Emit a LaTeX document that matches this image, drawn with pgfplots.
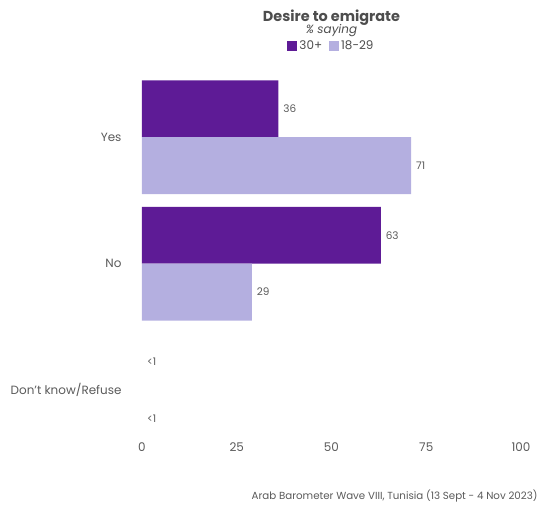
\documentclass[border=0pt]{standalone}
\usepackage{pgfplots}
\pgfplotsset{compat=1.18}
\usepackage{fontspec}
\setmainfont{Poppins}
\definecolor{dark}{RGB}{94,27,150}
\definecolor{light}{RGB}{180,175,224}
\definecolor{txt}{RGB}{90,90,90}
\definecolor{ttl}{RGB}{77,77,77}
\begin{document}
\begin{tikzpicture}
\begin{axis}[
  at={(0,0)}, anchor=south west,
  scale only axis, width=379bp, height=373bp,
  xmin=0, xmax=100, ymin=-0.45, ymax=2.5,
  axis line style={draw=none},
  major tick length=0pt,
  xtick={0,25,50,75,100},
  ytick={0,1,2},
  yticklabels={Don't know/Refuse,No,Yes},
  /pgf/number format/assume math mode=true,
  xticklabel style={anchor=center, font=\fontsize{12}{14}\selectfont, text=txt},
  yticklabel style={anchor=east, xshift=-17bp, font=\fontsize{12}{14}\selectfont, text=txt},
  xbar, bar width=0.45,
  point meta=explicit symbolic,
  nodes near coords,
  every node near coord/.append style={anchor=west, xshift=1.5bp, font=\fontsize{10.5}{12}\selectfont, text=txt},
  legend style={at={(0.5,1)}, anchor=center, yshift=28bp, draw=none, fill=none,
    legend columns=2, font=\fontsize{12}{14}\selectfont, text=ttl,
    /tikz/every even column/.append style={column sep=5bp}},
  legend image code/.code={\fill[#1] (0bp,-5bp) rectangle (10bp,5bp);},
  clip=false,
]
\addplot[fill=dark, draw=none, bar shift=0.225] coordinates {(36,2) [36] (63,1) [63]};
\addlegendentry{30+}
\addplot[fill=light, draw=none, bar shift=-0.225] coordinates {(71,2) [71] (29,1) [29]};
\addlegendentry{18-29}
\addplot[fill=none, draw=none, bar shift=0.225, forget plot] coordinates {(0,0) [<1]};
\addplot[fill=none, draw=none, bar shift=-0.225, forget plot] coordinates {(0,0) [<1]};
\node[font=\bfseries\fontsize{14.5}{16}\selectfont, text=ttl] at (rel axis cs:0.5,1) [yshift=56bp] {Desire to emigrate};
\node[font=\itshape\fontsize{12}{14}\selectfont, text=ttl] at (rel axis cs:0.5,1) [yshift=43bp] {\% saying};
\end{axis}
\node[anchor=east, font=\fontsize{10.3}{12}\selectfont, text=txt] at (399bp,-49bp) {Arab Barometer Wave VIII, Tunisia (13 Sept - 4 Nov 2023)};
\pgfresetboundingbox
\path[use as bounding box] (-142bp,-59bp) rectangle (399bp,447bp);
\end{tikzpicture}
\end{document}
